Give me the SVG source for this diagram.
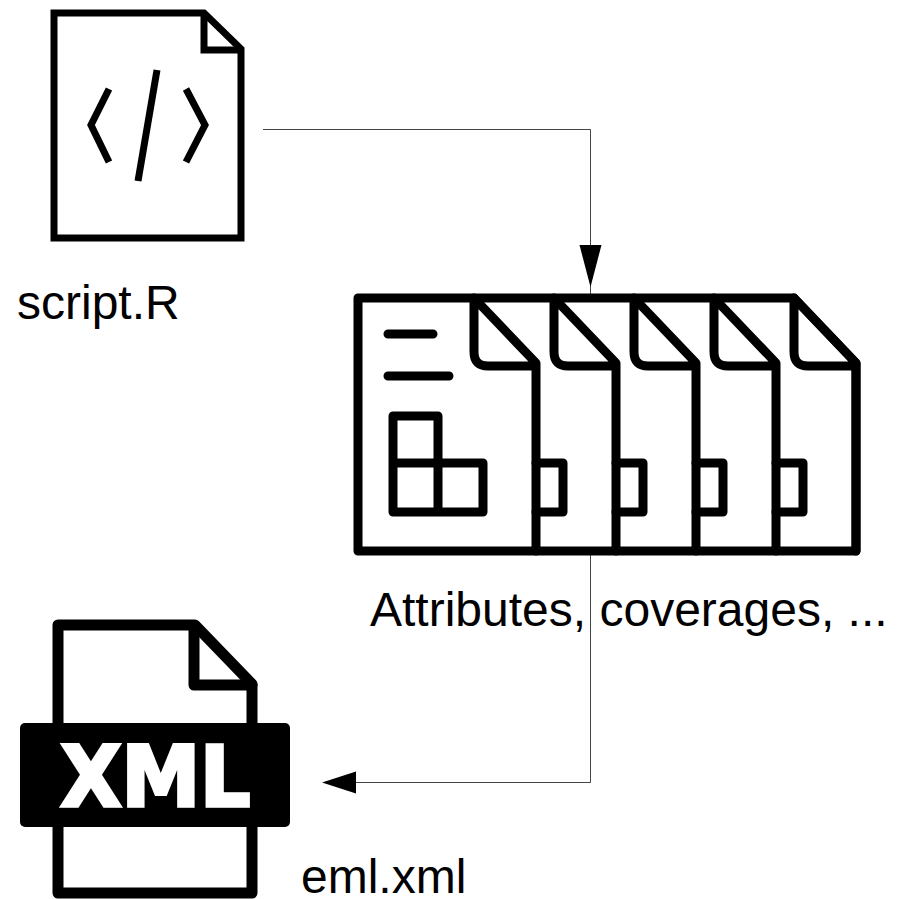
<svg xmlns="http://www.w3.org/2000/svg" width="905" height="899" viewBox="0 0 905 899">
<style>
.label{font-family:"Liberation Sans",Arial,sans-serif;font-size:48px;fill:#000}
.ln{fill:none;stroke:#000;stroke-linejoin:round;stroke-linecap:round}
.s{stroke-width:7;stroke-linejoin:miter;stroke-linecap:butt}
.m{stroke-width:9}
.b{stroke-width:11}
.conn{fill:none;stroke:#444;stroke-width:1}
</style>
<defs>
<path id="page" class="ln m" d="M0 0V54Q0 68 14 68H62M0 0L62 65V253"/>
<path id="tab" class="ln m" d="M0 165H27V214H0"/>
</defs>
<rect width="905" height="899" fill="#fff"/>
<g id="connectors">
<path class="conn" d="M263 129.500H590.500V298"/>
<path d="M590.500 287L579.500 245H601.500Z" fill="#000"/>
<path class="conn" d="M590.500 551V782.500H340"/>
<path d="M322 782.500L356 771.500V793.500Z" fill="#000"/>
</g>
<g id="script-node">
<path class="ln s" d="M54 13H204L241 49V238H54Z"/>
<path class="ln s" d="M204 13V50H241"/>
<path class="ln s" d="M109 89L91 125L109 162M186 89L205 125L186 162M157 70L138 181"/>
<text class="label" x="17" y="319">script.R</text>
</g>
<g id="attributes-node">
<path class="ln m" d="M358 298H794L856 363V551H358Z"/>
<use href="#page" x="474" y="298"/>
<use href="#page" x="554" y="298"/>
<use href="#page" x="634" y="298"/>
<use href="#page" x="714" y="298"/>
<use href="#page" x="794" y="298"/>
<path class="ln m" d="M388 334H433M388 376H449"/>
<path class="ln m" d="M393 463V416H438V512M393 463H483V512H393Z"/>
<use href="#tab" x="536" y="298"/>
<use href="#tab" x="616" y="298"/>
<use href="#tab" x="696" y="298"/>
<use href="#tab" x="776" y="298"/>
<text class="label" x="370" y="626">Attributes, coverages, ...</text>
</g>
<g id="eml-node">
<path class="ln b" d="M58 625H195L252 684V893H58Z"/>
<path class="ln b" d="M194 626V685H252"/>
<rect x="20" y="723" width="270" height="104" rx="5" fill="#000"/>
<text x="60.500" y="805.500" font-family="DejaVu Sans,sans-serif" font-weight="700" font-size="84" fill="#fff" stroke="#fff" stroke-width="3.500" textLength="190" lengthAdjust="spacingAndGlyphs">XML</text>
<text class="label" x="301" y="893">eml.xml</text>
</g>
</svg>
